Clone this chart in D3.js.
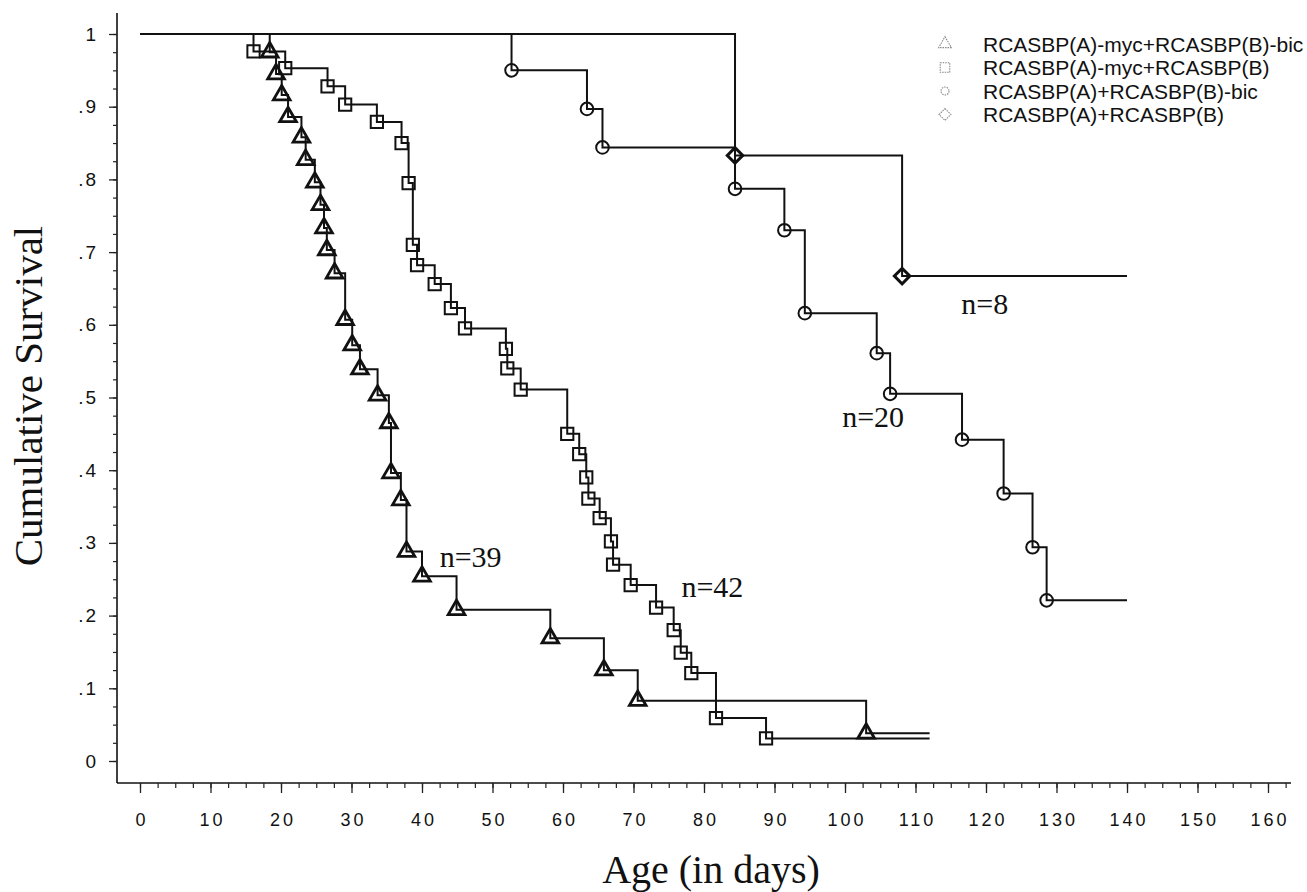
<!DOCTYPE html>
<html>
<head>
<meta charset="utf-8">
<script src="https://cdn.jsdelivr.net/npm/d3@7"></script>
<style>
  html, body { margin: 0; padding: 0; background: #fff; }
  svg { display: block; }
</style>
</head>
<body>
<svg id="chart" width="1307" height="892"></svg>
<script>
// ---------------- data ----------------
const seriesNames = [
  "RCASBP(A)-myc+RCASBP(B)-bic",
  "RCASBP(A)-myc+RCASBP(B)",
  "RCASBP(A)+RCASBP(B)-bic",
  "RCASBP(A)+RCASBP(B)"
];
const seriesN = ["n=39", "n=42", "n=20", "n=8"];

// event times (days) and cumulative survival after each event
const triTimes = [18.4, 19.3, 20.1, 21.0, 22.9, 23.5, 24.8, 25.6, 26.1, 26.5, 27.6, 29.1, 30.1, 31.2, 33.7, 35.3, 35.6, 37.0, 37.8, 40.0, 44.9, 58.2, 65.8, 70.6, 103.0];
const triSurv  = [0.975, 0.945, 0.916, 0.886, 0.858, 0.827, 0.796, 0.765, 0.733, 0.703, 0.671, 0.607, 0.572, 0.539, 0.503, 0.465, 0.396, 0.359, 0.288, 0.254, 0.208, 0.169, 0.125, 0.083, 0.038];
const triEnd = 112;

const sqTimes = [16.1, 20.6, 26.6, 29.1, 33.6, 37.1, 38.1, 38.7, 39.3, 41.8, 44.1, 46.1, 51.9, 52.1, 54.0, 60.6, 62.3, 63.3, 63.6, 65.2, 66.8, 67.1, 69.6, 73.2, 75.7, 76.7, 78.2, 81.7, 88.8];
const sqSurv  = [0.976, 0.953, 0.928, 0.903, 0.879, 0.850, 0.795, 0.710, 0.682, 0.656, 0.623, 0.595, 0.567, 0.540, 0.511, 0.450, 0.422, 0.390, 0.361, 0.334, 0.302, 0.270, 0.242, 0.211, 0.180, 0.149, 0.121, 0.059, 0.031];
const sqEnd = 112;

const circTimes = [52.7, 63.4, 65.6, 84.4, 91.4, 94.3, 104.5, 106.4, 116.6, 122.5, 126.6, 128.6];
const circSurv  = [0.950, 0.897, 0.844, 0.787, 0.730, 0.616, 0.561, 0.505, 0.442, 0.368, 0.294, 0.221];
const circEnd = 140;

const diaTimes = [84.4, 108.1];
const diaSurv  = [0.833, 0.667];
const diaEnd = 140;

// label anchor points (data coordinates)
const nLabelT = [42.5, 76.8, 99.6, 116.5];
const nLabelS = [0.267, 0.225, 0.459, 0.615];

const xMajorTicks = d3.range(0, 161, 10);
const xMinorTicks = d3.range(0, 163, 2.5);
const yMajorTicks = d3.range(0, 11).map(d => d / 10);
const yMinorTicks = d3.range(0, 41).map(d => d / 40);

// ---------------- layout ----------------
const svg = d3.select("#chart");
const x = d3.scaleLinear().domain([0, 160]).range([140, 1268]);
const y = d3.scaleLinear().domain([0, 1]).range([761, 34]);
const axisX0 = 117, axisY0 = 783;

svg.append("rect").attr("width", 1307).attr("height", 892).attr("fill", "#fff");

// axis lines
svg.append("line").attr("x1", axisX0).attr("x2", axisX0).attr("y1", 13).attr("y2", axisY0)
  .attr("stroke", "#111").attr("stroke-width", 1.6);
svg.append("line").attr("x1", axisX0).attr("x2", 1291).attr("y1", axisY0).attr("y2", axisY0)
  .attr("stroke", "#111").attr("stroke-width", 1.6);

const tickFont = "'Liberation Sans', Arial, sans-serif";

// y axis
svg.append("g").attr("transform", `translate(${axisX0},0)`)
  .call(d3.axisLeft(y).tickValues(yMinorTicks).tickSize(4).tickFormat(""))
  .call(g => g.select(".domain").remove())
  .call(g => g.selectAll("line").attr("stroke", "#222").attr("stroke-width", 1.2));
svg.append("g").attr("transform", `translate(${axisX0},0)`)
  .call(d3.axisLeft(y).tickValues(yMajorTicks).tickSize(8).tickPadding(11)
    .tickFormat(d => d === 0 ? "0" : d === 1 ? "1" : d3.format(".1f")(d).replace(/^0/, "")))
  .call(g => g.select(".domain").remove())
  .call(g => g.selectAll("line").attr("stroke", "#222").attr("stroke-width", 1.3))
  .call(g => g.selectAll("text").attr("font-family", tickFont).attr("font-size", 19)
    .attr("fill", "#111").attr("letter-spacing", 2));

// x axis
svg.append("g").attr("transform", `translate(0,${axisY0})`)
  .call(d3.axisBottom(x).tickValues(xMinorTicks).tickSize(5).tickFormat(""))
  .call(g => g.select(".domain").remove())
  .call(g => g.selectAll("line").attr("stroke", "#222").attr("stroke-width", 1.2));
svg.append("g").attr("transform", `translate(0,${axisY0})`)
  .call(d3.axisBottom(x).tickValues(xMajorTicks).tickSize(10).tickPadding(20).tickFormat(d3.format("d")))
  .call(g => g.select(".domain").remove())
  .call(g => g.selectAll("line").attr("stroke", "#222").attr("stroke-width", 1.3))
  .call(g => g.selectAll("text").attr("font-family", tickFont).attr("font-size", 18)
    .attr("fill", "#111").attr("letter-spacing", 3).attr("dx", 1.5));

// axis titles
const serif = "'Liberation Serif', 'Times New Roman', serif";
svg.append("text").attr("transform", "translate(42,396) rotate(-90)")
  .attr("text-anchor", "middle").attr("font-family", serif).attr("font-size", 41)
  .attr("fill", "#111").text("Cumulative Survival");
svg.append("text").attr("x", 711).attr("y", 883)
  .attr("text-anchor", "middle").attr("font-family", serif).attr("font-size", 40)
  .attr("fill", "#111").text("Age (in days)");

// ---------------- curves ----------------
const series = [
  { t: triTimes, s: triSurv, end: triEnd, sym: "tri" },
  { t: sqTimes, s: sqSurv, end: sqEnd, sym: "sq" },
  { t: circTimes, s: circSurv, end: circEnd, sym: "circ" },
  { t: diaTimes, s: diaSurv, end: diaEnd, sym: "dia" }
];

const line = d3.line().x(d => x(d[0])).y(d => y(d[1])).curve(d3.curveStepAfter);

const symPath = {
  tri: d3.symbol(d3.symbolTriangle, 120)(),
  sq: d3.symbol(d3.symbolSquare, 150)(),
  circ: d3.symbol(d3.symbolCircle, 125)(),
  dia: d3.symbol(d3.symbolSquare, 120)()
};
const symStroke = { tri: 2.8, sq: 2.0, circ: 2.0, dia: 3.0 };

series.forEach(sr => {
  const pts = [[0, 1]].concat(sr.t.map((t, i) => [t, sr.s[i]]));
  pts.push([sr.end, sr.s[sr.s.length - 1]]);
  svg.append("path").datum(pts).attr("d", line)
    .attr("fill", "none").attr("stroke", "#111").attr("stroke-width", 2);
});

series.forEach(sr => {
  svg.append("g").selectAll("path")
    .data(sr.t.map((t, i) => [t, sr.s[i]]))
    .join("path")
    .attr("d", symPath[sr.sym])
    .attr("transform", d => `translate(${x(d[0])},${y(d[1])})` + (sr.sym === "dia" ? " rotate(45)" : ""))
    .attr("fill", "none").attr("stroke", "#111").attr("stroke-width", symStroke[sr.sym]);
});

// n labels
seriesN.forEach((lab, i) => {
  svg.append("text").attr("x", x(nLabelT[i])).attr("y", y(nLabelS[i]))
    .attr("font-family", serif).attr("font-size", 30).attr("fill", "#111").text(lab);
});

// ---------------- legend ----------------
const legSyms = ["tri", "sq", "circ", "dia"];
const legSize = { tri: 70, sq: 90, circ: 50, dia: 70 };
const leg = svg.append("g");
seriesNames.forEach((name, i) => {
  const cy = 44 + i * 23.5;
  leg.append("path")
    .attr("d", d3.symbol(legSym(i), legSize[legSyms[i]])())
    .attr("transform", `translate(945,${cy})` + (legSyms[i] === "dia" ? " rotate(45)" : ""))
    .attr("fill", "none").attr("stroke", "#888").attr("stroke-width", 1.1)
    .attr("stroke-dasharray", "1.5,1");
  leg.append("text").attr("x", 983).attr("y", cy + 7.5)
    .attr("font-family", tickFont).attr("font-size", 21).attr("fill", "#111").text(name);
});
function legSym(i) {
  return [d3.symbolTriangle, d3.symbolSquare, d3.symbolCircle, d3.symbolSquare][i];
}
</script>
</body>
</html>
